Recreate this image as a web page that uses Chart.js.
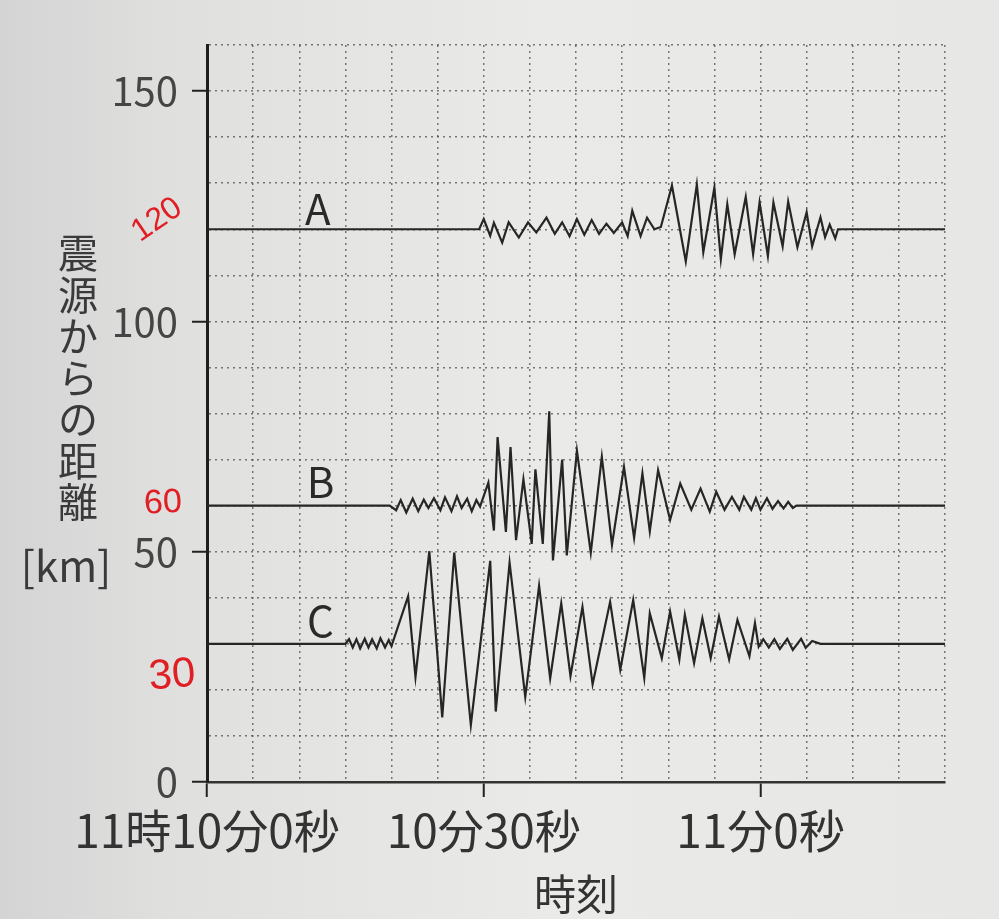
<!DOCTYPE html>
<html>
<head>
<meta charset="utf-8">
<script src="https://cdn.jsdelivr.net/npm/chart.js@4.4.1/dist/chart.umd.min.js"></script>
<style>
  html, body { margin: 0; padding: 0; }
  body {
    width: 999px; height: 919px; overflow: hidden;
    background: linear-gradient(90deg, #d3d4d3 0%, #e0e0df 18%, #eaeae9 55%, #e7e7e5 100%);
  }
  #wrap { width: 999px; height: 919px; position: relative; }
</style>
</head>
<body>
<div id="wrap"><canvas id="c" width="999" height="919"></canvas></div>
<script>
// ---- data (seconds after 11:10:00, distance-offset trace in km) ----
const seriesATime = [0, 29.5, 30.0, 30.7, 31.1, 32.0, 32.7, 33.8, 34.8, 35.7, 36.8, 37.7, 38.5, 39.3, 40.1, 40.9, 41.7, 42.5, 43.3, 44.1, 45.0, 45.6, 46.1, 47.0, 47.7, 48.5, 49.2, 50.4, 51.9, 53.1, 53.8, 55.0, 55.7, 56.4, 57.2, 58.4, 59.2, 59.9, 60.8, 61.4, 62.4, 63.0, 64.0, 65.0, 65.6, 66.5, 67.0, 67.5, 68.1, 68.4, 80];
const seriesAValue = [120, 120, 122.2, 118.6, 121.4, 117.1, 121.5, 118.2, 121.5, 119.3, 122.5, 119, 121.5, 118.5, 122.2, 118.8, 122, 119, 121.2, 119.2, 121.5, 118.5, 124, 118.5, 122.5, 120, 120.5, 129.5, 113, 129.7, 115, 129, 113.5, 125.4, 114.6, 127, 114.6, 125.8, 114.2, 125.8, 116.3, 126, 116.1, 123.7, 116.3, 122.6, 118.3, 121, 118, 120, 120];

const seriesBTime = [0, 19.8, 20.5, 21.0, 21.6, 22.3, 22.9, 23.5, 24.0, 24.6, 25.3, 25.8, 26.5, 27.1, 27.6, 28.2, 28.7, 29.2, 29.6, 30.5, 31.1, 31.5, 32.4, 32.9, 33.5, 34.3, 35.2, 35.6, 36.4, 37.1, 37.5, 38.5, 39.0, 40.1, 41.6, 42.8, 43.9, 45.2, 46.3, 47.2, 48.0, 48.9, 50.2, 51.3, 52.5, 53.5, 54.5, 55.2, 56.1, 56.9, 57.7, 58.2, 59.0, 59.5, 60.0, 60.7, 61.3, 61.9, 62.5, 63.0, 63.5, 63.9, 80];
const seriesBValue = [60, 60, 59, 61.2, 58.5, 61.5, 58.8, 61.3, 59.5, 61.6, 59, 61.8, 58.8, 62, 59.5, 61.5, 58.8, 61.2, 59.8, 65, 54.6, 74.9, 54.3, 72.7, 52.5, 65.7, 51.7, 67.9, 51.7, 80.5, 48.1, 70, 49.2, 71.9, 49.8, 70.6, 51.5, 68.4, 53, 67, 54.4, 67.7, 56.9, 64.8, 59.1, 63.7, 58.7, 63, 59.1, 61.9, 59.1, 61.9, 59.1, 61.6, 59.1, 61.6, 59.3, 61, 59.4, 60.8, 59.5, 60, 60];

const seriesCTime = [0, 15.0, 15.4, 15.8, 16.2, 16.6, 17.1, 17.5, 17.9, 18.4, 18.8, 19.3, 19.7, 20.0, 21.8, 22.6, 24.1, 25.5, 26.8, 28.6, 30.7, 31.3, 32.8, 34.5, 36.0, 37.2, 38.4, 39.4, 40.7, 41.8, 43.7, 44.8, 46.2, 47.4, 48.0, 49.3, 50.2, 51.2, 51.8, 52.8, 53.7, 54.6, 55.5, 56.6, 57.5, 58.8, 59.4, 59.8, 60.3, 60.9, 61.5, 62.1, 62.9, 63.5, 64.4, 64.9, 65.6, 66.5, 80];
const seriesCValue = [30, 30, 31, 29.2, 31, 29, 31.1, 29.2, 31, 29, 31.2, 29.2, 30.8, 29.5, 40.3, 22.8, 50.1, 14, 49.8, 12.4, 48, 15.3, 47.6, 18.5, 42.6, 22.5, 38.8, 23, 38, 21.2, 39.1, 24.4, 39.5, 22.6, 36.6, 26.9, 37, 26.6, 36.3, 25.8, 35.5, 26.9, 35.9, 26.6, 35.2, 27.3, 34.5, 29.4, 31, 29.2, 31, 28.9, 31.1, 28.7, 31.1, 29.1, 30.6, 30, 30];

const seriesNames = ['A', 'B', 'C'];
const seriesLabelTime = [12, 12.3, 12.3];
const seriesLabelValue = [124.3, 65.2, 35.0];

const xTickValues = [0, 30, 60];
const xTickText = ['11時10分0秒', '10分30秒', '11分0秒'];
const yTickValues = [0, 50, 100, 150];
const yTitleChars = ['震', '源', 'か', 'ら', 'の', '距', '離'];
const yTitleUnit = '[km]';
const xTitle = '時刻';
const redNoteText = ['120', '60', '30'];
const redNoteValue = [122, 60.5, 23];

function toPoints(t, v) { return t.map((x, i) => ({ x: x, y: v[i] })); }

const traceStyle = { borderColor: '#262626', borderWidth: 2.2, pointRadius: 0, tension: 0, fill: false };

const overlay = {
  id: 'overlay',
  afterDatasetsDraw(chart) {
    const ctx = chart.ctx;
    const xs = chart.scales.x, ys = chart.scales.y;
    ctx.save();
    // series letters
    ctx.fillStyle = '#2a2a2a';
    ctx.font = '42px "Noto Sans CJK JP", "Noto Sans", sans-serif';
    ctx.textAlign = 'center';
    ctx.textBaseline = 'middle';
    seriesNames.forEach((n, i) => {
      ctx.fillText(n, xs.getPixelForValue(seriesLabelTime[i]), ys.getPixelForValue(seriesLabelValue[i]));
    });
    // y title (vertical stacked)
    ctx.fillStyle = '#3a3a3a';
    ctx.font = '40px "Noto Sans CJK JP", sans-serif';
    yTitleChars.forEach((ch, i) => {
      ctx.fillText(ch, 78, 253 + i * 41.5);
    });
    ctx.font = '42px "Noto Sans CJK JP", sans-serif';
    ctx.fillText(yTitleUnit, 66, 566);
    // red handwritten notes
    ctx.fillStyle = '#e01e24';
    const left = chart.chartArea.left;
    const offs = [-50, -44, -35];
    const sizes = [32, 34, 42];
    const rots = [-0.6, -0.05, -0.08];
    redNoteText.forEach((t, i) => {
      ctx.save();
      ctx.translate(left + offs[i], ys.getPixelForValue(redNoteValue[i]));
      ctx.rotate(rots[i]);
      ctx.font = sizes[i] + 'px "Liberation Sans", "DejaVu Sans", sans-serif';
      ctx.fillText(t, 0, 0);
      ctx.restore();
    });
    ctx.restore();
  }
};

const gridDots = [2, 4];

new Chart(document.getElementById('c'), {
  type: 'line',
  data: {
    datasets: [
      Object.assign({ label: 'A', data: toPoints(seriesATime, seriesAValue) }, traceStyle),
      Object.assign({ label: 'B', data: toPoints(seriesBTime, seriesBValue) }, traceStyle),
      Object.assign({ label: 'C', data: toPoints(seriesCTime, seriesCValue) }, traceStyle)
    ]
  },
  options: {
    responsive: false,
    animation: false,
    layout: { padding: { left: 0, right: 54, top: 45, bottom: 0 } },
    plugins: { legend: { display: false }, tooltip: { enabled: false } },
    scales: {
      x: {
        type: 'linear', min: 0, max: 80,
        afterFit(s) { s.height = 137; },
        ticks: {
          stepSize: 5, autoSkip: false, maxRotation: 0, padding: 6,
          color: '#333',
          font: { size: 46, family: '"Noto Sans CJK JP", sans-serif' },
          callback: v => { const k = xTickValues.indexOf(v); return k >= 0 ? xTickText[k] : ''; }
        },
        grid: {
          color: 'rgba(70,70,70,0.7)', lineWidth: 1.5,
          tickLength: 15,
          tickColor: c => (c.tick && xTickValues.indexOf(c.tick.value) >= 0) ? '#222' : 'rgba(0,0,0,0)',
          tickWidth: 2,
          tickBorderDash: []
        },
        border: { display: true, color: '#333', width: 2.5, dash: gridDots },
        title: {
          display: true, text: xTitle, color: '#333',
          font: { size: 42, family: '"Noto Sans CJK JP", sans-serif' },
          padding: { top: 0, bottom: 0 }
        }
      },
      y: {
        type: 'linear', min: 0, max: 160,
        afterFit(s) { s.width = 207; },
        ticks: {
          stepSize: 10, autoSkip: false, padding: 14,
          color: '#454545',
          font: { size: 40, family: '"Noto Sans CJK JP", sans-serif' },
          callback: v => yTickValues.indexOf(v) >= 0 ? String(v) : ''
        },
        grid: {
          color: 'rgba(70,70,70,0.7)', lineWidth: 1.5,
          tickLength: 15,
          tickColor: c => (c.tick && yTickValues.indexOf(c.tick.value) >= 0) ? '#222' : 'rgba(0,0,0,0)',
          tickWidth: 2,
          tickBorderDash: []
        },
        border: { display: true, color: '#1e1e1e', width: 3, dash: gridDots }
      }
    }
  },
  plugins: [overlay]
});
</script>
</body>
</html>
